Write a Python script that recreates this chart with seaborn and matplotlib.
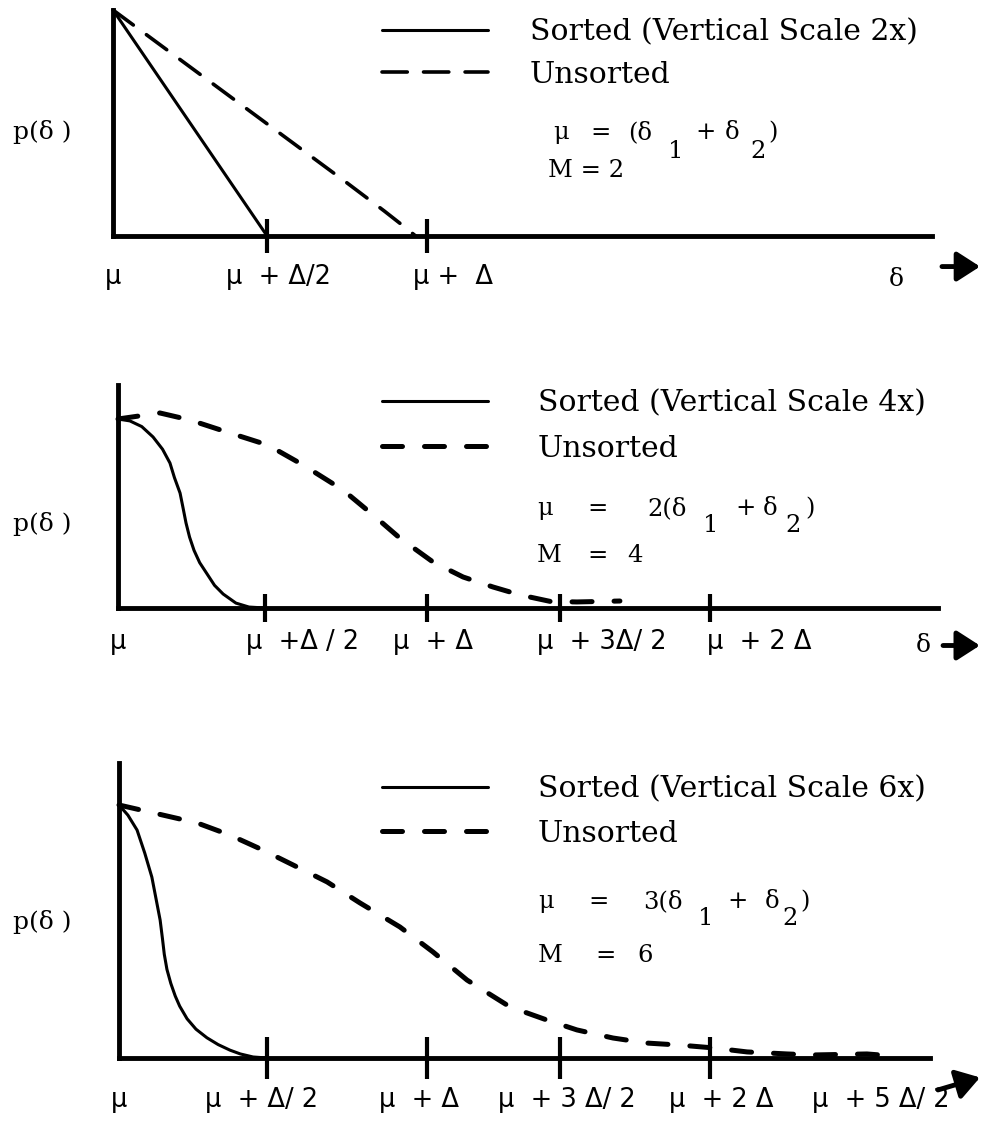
import numpy as np
import pandas as pd
import seaborn as sns
import matplotlib
matplotlib.use('Agg')
import matplotlib.pyplot as plt
from matplotlib import transforms

# x is measured in units of Delta above mu, p is scaled so the peak is 1
# panel 1 (M = 2)
p1_sorted_x = [0.0, 0.494]
p1_sorted_y = [1.0, 0.0]
p1_unsorted_x = [0.0, 0.25, 0.5, 0.75, 0.87, 0.93, 0.97]
p1_unsorted_y = [1.0, 0.745, 0.49, 0.235, 0.11, 0.045, 0.0]

# panel 2 (M = 4)
p2_sorted_x = [0.0, 0.04, 0.08, 0.118, 0.15, 0.175, 0.19, 0.209, 0.219, 0.229, 0.241, 0.256,
               0.275, 0.30, 0.325, 0.354, 0.397, 0.441, 0.495]
p2_sorted_y = [1.0, 0.99, 0.96, 0.905, 0.84, 0.767, 0.69, 0.608, 0.53, 0.45, 0.375, 0.305,
               0.24, 0.18, 0.12, 0.074, 0.026, 0.005, 0.0]
p2_unsorted_x = [0.0, 0.141, 0.242, 0.367, 0.505, 0.623, 0.758, 0.859, 0.949, 1.061,
                 1.162, 1.263, 1.354, 1.455, 1.545, 1.69]
p2_unsorted_y = [1.0, 1.032, 0.995, 0.931, 0.862, 0.757, 0.624, 0.492, 0.37, 0.243,
                 0.164, 0.111, 0.069, 0.035, 0.032, 0.037]

# panel 3 (M = 6)
p3_sorted_x = [0.0, 0.03, 0.061, 0.087, 0.111, 0.125, 0.139, 0.147, 0.153, 0.162, 0.175,
               0.19, 0.205, 0.23, 0.26, 0.297, 0.335, 0.375, 0.41, 0.453, 0.5]
p3_sorted_y = [1.0, 0.96, 0.901, 0.81, 0.715, 0.63, 0.545, 0.47, 0.41, 0.35, 0.295,
               0.245, 0.205, 0.155, 0.114, 0.08, 0.053, 0.031, 0.016, 0.004, 0.0]
p3_unsorted_x = [0.0, 0.149, 0.264, 0.375, 0.486, 0.588, 0.703, 0.814, 0.949, 1.061, 1.176,
                 1.321, 1.446, 1.547, 1.669, 1.784, 1.895, 2.007, 2.122, 2.257, 2.345, 2.527, 2.571]
p3_unsorted_y = [1.0, 0.96, 0.929, 0.881, 0.822, 0.763, 0.696, 0.613, 0.518, 0.419, 0.308,
                 0.202, 0.15, 0.111, 0.079, 0.059, 0.051, 0.04, 0.024, 0.016, 0.012, 0.016, 0.012]

# tick marks (as hand drawn) and tick label texts
p1_ticks = [0.494, 1.006]
p1_label_pos = [0.0, 0.53, 1.09]
p1_labels = ['μ', 'μ  + Δ/2', 'μ +  Δ']
p2_ticks = [0.495, 1.04, 1.488, 1.993]
p2_label_pos = [0.0, 0.62, 1.06, 1.63, 2.16]
p2_labels = ['μ', 'μ  +Δ / 2', 'μ  + Δ', 'μ  + 3Δ/ 2', 'μ  + 2 Δ']
p3_ticks = [0.5, 1.04, 1.49, 1.997]
p3_label_pos = [0.0, 0.483, 1.014, 1.514, 2.034, 2.574]
p3_labels = ['μ', 'μ  + Δ/ 2', 'μ  + Δ', 'μ  + 3 Δ/ 2', 'μ  + 2 Δ', 'μ  + 5 Δ/ 2']

legend_1 = ['Sorted (Vertical Scale 2x)', 'Unsorted']
legend_2 = ['Sorted (Vertical Scale 4x)', 'Unsorted']
legend_3 = ['Sorted (Vertical Scale 6x)', 'Unsorted']

W, H = 986, 1121
SERIF = ['DejaVu Serif']
SANS = ['DejaVu Sans']

sns.set_style('white')
plt.rcParams['font.family'] = SERIF
plt.rcParams['text.color'] = 'black'
plt.rcParams['xtick.color'] = 'black'
plt.rcParams['xtick.labelcolor'] = 'black'

fig = plt.figure(figsize=(W / 100, H / 100), dpi=100)


def fxy(px, py):
    return px / W, 1 - py / H


def add_panel(left, top, right, bottom):
    return fig.add_axes([left / W, 1 - bottom / H, (right - left) / W, (bottom - top) / H])


def draw_panel(ax, sx, sy, ux, uy, xmax, ymax, dash_lw, dash_pat):
    df = pd.concat([
        pd.DataFrame({'delta': sx, 'p': sy, 'curve': 'sorted'}),
        pd.DataFrame({'delta': ux, 'p': uy, 'curve': 'unsorted'})], ignore_index=True)
    sns.lineplot(data=df, x='delta', y='p', style='curve', style_order=['sorted', 'unsorted'],
                 dashes={'sorted': '', 'unsorted': dash_pat}, color='black',
                 estimator=None, sort=False, legend=False, ax=ax)
    ax.lines[0].set_linewidth(2.2)
    ax.lines[1].set_linewidth(dash_lw)
    for ln in ax.lines:
        ln.set_clip_on(False)
        ln.set_solid_capstyle('round')
        ln.set_solid_joinstyle('round')
        ln.set_dash_capstyle('round')
    ax.set_xlim(0, xmax)
    ax.set_ylim(0, ymax)
    sns.despine(ax=ax)
    for s in ['left', 'bottom']:
        ax.spines[s].set_linewidth(3.5)
        ax.spines[s].set_color('black')
    ax.set_yticks([])
    ax.set_xlabel('')
    ax.set_ylabel('')


def set_ticks(ax, ticks, tick_len, label_pos, labels, pad):
    ax.xaxis.remove_overlapping_locs = False
    ax.set_xticks(ticks)
    ax.set_xticklabels([''] * len(ticks))
    ax.set_xticks(label_pos, minor=True)
    ax.set_xticklabels(labels, minor=True, family=SANS, fontsize=18.5, color='black')
    ax.tick_params(axis='x', which='major', direction='inout', length=tick_len, width=3,
                   color='black', bottom=True)
    ax.tick_params(axis='x', which='minor', length=0, pad=pad, bottom=True)


def add_legend(ax, labels, left, top, spacing, textpad):
    ax.legend(handles=ax.lines[:2], labels=labels, loc='upper left',
              bbox_to_anchor=fxy(left, top), bbox_transform=fig.transFigure,
              frameon=False, borderpad=0, borderaxespad=0, handlelength=3.55,
              handletextpad=textpad, labelspacing=spacing,
              prop={'family': SERIF, 'size': 21.5})


def add_arrow(ax, x0, dy0, x1, dy1):
    t0 = transforms.offset_copy(ax.transData, fig=fig, y=dy0, units='points')
    t1 = transforms.offset_copy(ax.transData, fig=fig, y=dy1, units='points')
    ax.annotate('', xy=(x1, 0), xycoords=t1, xytext=(x0, 0), textcoords=t0,
                annotation_clip=False,
                arrowprops=dict(arrowstyle='-|>,head_length=0.7,head_width=0.45', lw=3.5,
                                color='black', mutation_scale=20, shrinkA=0, shrinkB=0))


def add_delta(ax, x, dy):
    ax.annotate('δ', xy=(x, 0), xytext=(0, dy), textcoords='offset points',
                ha='center', va='center', family=SERIF, fontsize=18, annotation_clip=False)


def put(pieces, size=17.5):
    for s, px, py in pieces:
        fig.text(*fxy(px, py), s, ha='left', va='baseline', family=SERIF, fontsize=size)


# ---- panel 1
ax1 = add_panel(113, 10, 932, 236)
draw_panel(ax1, p1_sorted_x, p1_sorted_y, p1_unsorted_x, p1_unsorted_y, 2.625, 1.0, 2.6, (7, 4.5))
set_ticks(ax1, p1_ticks, 24, p1_label_pos, p1_labels, 20)
add_legend(ax1, legend_1, 382, 18, 0.49, 1.4)
add_delta(ax1, 2.51, -31)
add_arrow(ax1, 2.657, -22, 2.779, -22)
put([('μ', 553, 139), ('=', 590, 139), ('(δ', 628, 139), ('+', 695, 139), ('δ', 725, 139),
     (')', 768, 139), ('1', 668, 158), ('2', 750, 158), ('M = 2', 548, 177)])
fig.text(*fxy(42, 132), 'p(δ )', ha='center', va='center', family=SERIF, fontsize=18)

# ---- panel 2
ax2 = add_panel(118, 385, 938, 608)
draw_panel(ax2, p2_sorted_x, p2_sorted_y, p2_unsorted_x, p2_unsorted_y, 2.761, 1.18, 3.6, (4, 4.4))
set_ticks(ax2, p2_ticks, 20, p2_label_pos, p2_labels, 15)
add_legend(ax2, legend_2, 382, 389, 0.59, 1.67)
add_delta(ax2, 2.71, -27)
add_arrow(ax2, 2.778, -27, 2.902, -27)
put([('μ', 537, 515), ('=', 587, 515), ('2(δ', 647, 515), ('+', 735, 515), ('δ', 763, 515),
     (')', 805, 515), ('1', 703, 532), ('2', 785, 532),
     ('M', 537, 562), ('=', 587, 562), ('4', 627, 562)])
fig.text(*fxy(42, 524), 'p(δ )', ha='center', va='center', family=SERIF, fontsize=18)

# ---- panel 3
ax3 = add_panel(119, 763, 930, 1058)
draw_panel(ax3, p3_sorted_x, p3_sorted_y, p3_unsorted_x, p3_unsorted_y, 2.74, 1.166, 3.6, (4, 4.4))
set_ticks(ax3, p3_ticks, 30, p3_label_pos, p3_labels, 21)
add_legend(ax3, legend_3, 382, 775, 0.56, 1.67)
add_arrow(ax3, 2.767, -23, 2.909, -14)
put([('μ', 538, 908), ('=', 588, 908), ('3(δ', 643, 908), ('+', 727, 908), ('δ', 765, 908),
     (')', 800, 908), ('1', 698, 925), ('2', 782, 925),
     ('M', 538, 962), ('=', 595, 962), ('6', 637, 962)])
fig.text(*fxy(42, 922), 'p(δ )', ha='center', va='center', family=SERIF, fontsize=18)

fig.savefig('out.png', dpi=100, facecolor='white')
